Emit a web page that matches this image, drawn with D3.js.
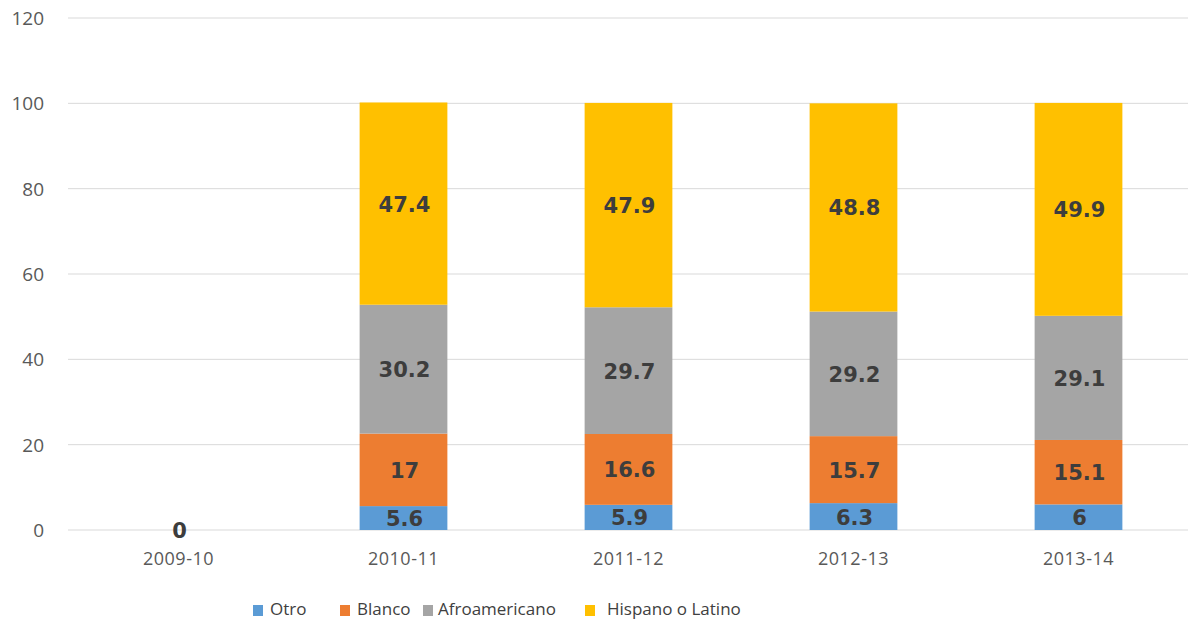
<!DOCTYPE html>
<html>
<head>
<meta charset="utf-8">
<script src="https://cdn.jsdelivr.net/npm/d3@7"></script>
<style>
  body { margin: 0; background: #fff; }
  svg { display: block; }
</style>
</head>
<body>
<div id="container"></div>
<script>
const years = ["2009-10", "2010-11", "2011-12", "2012-13", "2013-14"];
const seriesNames = ["Otro", "Blanco", "Afroamericano", "Hispano o Latino"];
const otro = [0, 5.6, 5.9, 6.3, 6];
const blanco = [0, 17, 16.6, 15.7, 15.1];
const afro = [0, 30.2, 29.7, 29.2, 29.1];
const hispano = [0, 47.4, 47.9, 48.8, 49.9];
const yTicks = [0, 20, 40, 60, 80, 100, 120];
const colors = ["#5B9BD5", "#ED7D31", "#A5A5A5", "#FFC000"];

const width = 1188, height = 627;
let svg = d3.select("#container").append("svg")
  .attr("width", width).attr("height", height);

let rows = years.map((y, i) => ({
  year: y, Otro: otro[i], Blanco: blanco[i],
  Afroamericano: afro[i], "Hispano o Latino": hispano[i]
}));
let stacked = d3.stack().keys(seriesNames)(rows);

let x = d3.scaleBand().domain(years).range([66, 1191]).paddingInner(0.61).paddingOuter(0.305);
let y = d3.scaleLinear().domain([0, 120]).range([530, 18]);

// gridlines
svg.append("g").selectAll("line").data(yTicks).enter().append("line")
  .attr("x1", 68).attr("x2", 1188)
  .attr("y1", (d) => y(d)).attr("y2", (d) => y(d))
  .attr("stroke", "#d9d9d9").attr("stroke-width", 1);

// y labels
svg.append("g").selectAll("text").data(yTicks).enter().append("text")
  .attr("x", 44).attr("y", (d) => y(d) + 7)
  .attr("text-anchor", "end")
  .style("font-family", "'Open Sans', sans-serif").style("font-size", "19px")
  .style("fill", "#595959")
  .text((d) => d);

// x labels
svg.append("g").selectAll("text").data(years).enter().append("text")
  .attr("x", (d) => x(d) + x.bandwidth() / 2).attr("y", 565)
  .attr("text-anchor", "middle")
  .style("font-family", "'Open Sans', sans-serif").style("font-size", "18px")
  .style("letter-spacing", "0.5px")
  .style("fill", "#595959")
  .text((d) => d);

// bars
let layers = svg.append("g").selectAll("g").data(stacked).enter().append("g")
  .attr("fill", (d, i) => colors[i]);
layers.selectAll("rect").data((d) => d).enter().append("rect")
  .attr("x", (d) => x(d.data.year))
  .attr("width", x.bandwidth())
  .attr("y", (d) => y(d[1]))
  .attr("height", (d) => y(d[0]) - y(d[1]));

// value labels (empty segments stacked at zero show one label only)
let labelData = [];
stacked.forEach((s, si) => {
  s.forEach((p) => {
    let v = p.data[s.key];
    if (v !== 0 || si === seriesNames.length - 1) labelData.push({ p: p, v: v });
  });
});
svg.append("g").selectAll("text").data(labelData).enter().append("text")
  .attr("x", (d) => x(d.p.data.year) + x.bandwidth() / 2 + 1)
  .attr("y", (d) => (y(d.p[0]) + y(d.p[1])) / 2 + 8)
  .attr("text-anchor", "middle")
  .style("font-family", "'DejaVu Sans', sans-serif")
  .style("font-weight", "bold").style("font-size", "21px")
  .style("fill", "#3d3d3d")
  .text((d) => d.v);

// legend
let legendX = [253, 340, 423, 585];
let legendTextX = [270, 357, 438, 607];
let legend = svg.append("g").selectAll("g").data(seriesNames).enter().append("g");
legend.append("rect").attr("width", 10).attr("height", 11)
  .attr("x", (d, i) => legendX[i]).attr("y", 605)
  .attr("fill", (d, i) => colors[i]);
legend.append("text").attr("x", (d, i) => legendTextX[i]).attr("y", 615)
  .style("font-family", "'Open Sans', sans-serif").style("font-size", "17px")
  .style("fill", "#404040")
  .text((d) => d);
</script>
</body>
</html>
